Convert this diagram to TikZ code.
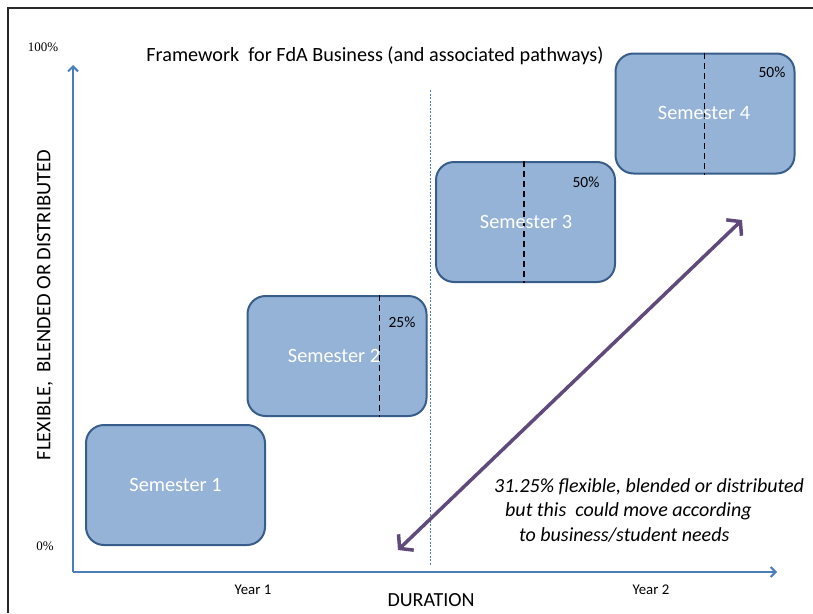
\documentclass[tikz,border=0pt]{standalone}
\usepackage{fontspec}
\setmainfont{Carlito}
\newfontfamily\numserif{Liberation Serif}
\usetikzlibrary{arrows.meta,calc}
\definecolor{boxfill}{RGB}{149,179,215}
\definecolor{boxline}{RGB}{56,93,138}
\definecolor{axisblue}{RGB}{74,126,187}
\definecolor{arrowpurple}{RGB}{96,74,123}
\definecolor{frameline}{RGB}{40,40,40}
\tikzset{
  semester/.style={draw=boxline, line width=2pt, fill=boxfill, rounded corners=18pt,
    minimum width=179pt, minimum height=120pt, inner sep=0pt},
  semtext/.style={text=white, font=\fontsize{20.3}{24}\selectfont, inner sep=0pt},
  divider/.style={draw=black, line width=1.6pt, dash pattern=on 6pt off 4pt},
  pct/.style={font=\fontsize{15.5}{18}\selectfont, inner sep=0pt},
  axis/.style={draw=axisblue, line width=2pt, -{Straight Barb[length=5pt,width=10pt,line width=2pt]}},
  flexarrow/.style={draw=arrowpurple, line width=3.5pt,
    {Straight Barb[length=9pt,width=22pt,line width=3.5pt]}-{Straight Barb[length=9pt,width=22pt,line width=3.5pt]}},
  note/.style={font=\fontsize{20}{24}\selectfont\itshape, inner sep=0pt, anchor=base west}
}
\begin{document}
\begin{tikzpicture}[x=1pt,y=-1pt]
\useasboundingbox (0,0) rectangle (813,613);
% frame
\draw[frameline, line width=1.5pt] (8,613) -- (8,8) -- (813,8);
% axes
\coordinate (origin) at (73,572);
\coordinate (ytop) at (73,65);
\coordinate (xend) at (777,572);
\draw[axis] (origin) -- (ytop);
\draw[axis] (origin) -- (xend);
% year divider
\coordinate (ydtop) at (430,90);
\coordinate (ydbot) at (430,565);
\draw[axisblue, line width=0.6pt, dash pattern=on 2pt off 1.5pt] (ydtop) -- (ydbot);
% labels
\node[font=\numserif\fontsize{13}{15}\selectfont, inner sep=0pt] (p100) at (43,47) {100\%};
\node[font=\numserif\fontsize{13}{15}\selectfont, inner sep=0pt] (p0) at (45,546) {0\%};
\node[font=\fontsize{20.2}{24}\selectfont, inner sep=0pt] (title) at (375,56) {Framework\ \ for FdA Business (and associated pathways)};
\node[font=\fontsize{20.5}{24}\selectfont, inner sep=0pt, rotate=90] (ylab) at (45,305) {FLEXIBLE,\ \ BLENDED OR DISTRIBUTED};
\node[font=\fontsize{20}{24}\selectfont, inner sep=0pt] (dur) at (431,600) {DURATION};
\node[font=\fontsize{14.8}{17}\selectfont, inner sep=0pt] (y1) at (253,590) {Year 1};
\node[font=\fontsize{14.8}{17}\selectfont, inner sep=0pt] (y2) at (651,590) {Year 2};
% semesters
\node[semester] (s1) at (175.5,485) {};
\node[semtext] (t1) at (s1) {Semester 1};
\node[semester] (s2) at (337,356) {};
\draw[divider] ([xshift=133pt]s2.north west) -- ([xshift=133pt]s2.south west);
\node[semtext] (t2) at (334,356) {Semester 2};
\node[pct] (c2) at (402,322) {25\%};
\node[semester] (s3) at (525.5,222) {};
\draw[divider] ([xshift=89pt]s3.north west) -- ([xshift=89pt]s3.south west);
\node[semtext] (t3) at (526,222) {Semester 3};
\node[pct] (c3) at (586,182) {50\%};
\node[semester] (s4) at (705,113.5) {};
\draw[divider] ([xshift=90pt]s4.north west) -- ([xshift=90pt]s4.south west);
\node[semtext] (t4) at (704,113) {Semester 4};
\node[pct] (c4) at (772,72) {50\%};
% flexible arrow
\coordinate (lo) at (398,550);
\coordinate (hi) at (742,220);
\draw[flexarrow] (lo) -- (hi);
% note
\node[note] (n1) at (494,492) {31.25\% flexible, blended or distributed};
\node[note] (n2) at (505,516) {but this\ \ could move according};
\node[note] (n3) at (519,541) {to business/student needs};
\end{tikzpicture}
\end{document}
